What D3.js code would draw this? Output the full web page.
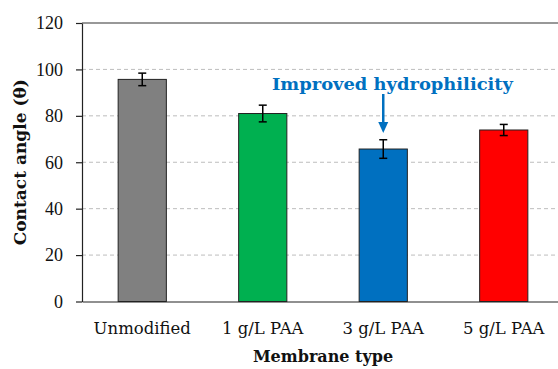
<!DOCTYPE html>
<html>
<head>
<meta charset="utf-8">
<script src="https://cdn.jsdelivr.net/npm/d3@7"></script>
<style>
  body { margin: 0; background: #fff; }
  svg { display: block; }
</style>
</head>
<body>
<div id="chart"></div>
<script>
// data
const categories = ['Unmodified', '1 g/L PAA', '3 g/L PAA', '5 g/L PAA'];
const angles = [95.7, 81.0, 65.7, 73.9];
const errors = [2.7, 3.6, 4.0, 2.4];
const barColors = ['#808080', '#00b050', '#0070c0', '#ff0000'];
const yTicks = [0, 20, 40, 60, 80, 100, 120];

const FONT = "'DejaVu Serif', 'Liberation Serif', serif";

const width = 558;
const height = 369;
const margin = { top: 23, right: -6, bottom: 67.5, left: 82 };

const svg = d3.select('#chart')
    .append('svg')
    .attr('width', width)
    .attr('height', height);

const x = d3.scaleBand()
    .domain(categories)
    .range([margin.left, width - margin.right])
    .paddingInner(0.6)
    .paddingOuter(0.3);

const y = d3.scaleLinear()
    .domain([0, 120])
    .range([height - margin.bottom, margin.top]);

// gridlines
svg.append('g')
    .selectAll('line')
    .data(yTicks.filter(d => d > 0 && d < 120))
    .enter()
    .append('line')
    .attr('x1', margin.left)
    .attr('x2', width)
    .attr('y1', d => y(d))
    .attr('y2', d => y(d))
    .attr('stroke', '#bdbdbd')
    .attr('stroke-width', 1)
    .attr('stroke-dasharray', '4,3');

// top line at 120
svg.append('line')
    .attr('x1', margin.left)
    .attr('x2', width)
    .attr('y1', y(120))
    .attr('y2', y(120))
    .attr('stroke', '#333')
    .attr('stroke-width', 1.2);

// bars
svg.selectAll('.bar')
    .data(categories)
    .enter()
    .append('rect')
    .attr('x', d => x(d))
    .attr('y', (d, i) => y(angles[i]))
    .attr('width', x.bandwidth())
    .attr('height', (d, i) => y(0) - y(angles[i]))
    .attr('fill', (d, i) => barColors[i])
    .attr('stroke', '#222')
    .attr('stroke-width', 1);

// error bars
const err = svg.append('g').attr('stroke', '#000').attr('stroke-width', 1.5);
categories.forEach((c, i) => {
    const cx = x(c) + x.bandwidth() / 2;
    const y1 = y(angles[i] + errors[i]);
    const y2 = y(angles[i] - errors[i]);
    err.append('line').attr('x1', cx).attr('x2', cx).attr('y1', y1).attr('y2', y2);
    err.append('line').attr('x1', cx - 4).attr('x2', cx + 4).attr('y1', y1).attr('y2', y1);
    err.append('line').attr('x1', cx - 4).attr('x2', cx + 4).attr('y1', y2).attr('y2', y2);
});

// y axis
const yAxis = svg.append('g')
    .attr('transform', `translate(${margin.left},0)`)
    .call(d3.axisLeft(y).tickValues(yTicks).tickSize(6).tickSizeOuter(0).tickPadding(13));
yAxis.attr('font-family', null);
yAxis.select('.domain').attr('stroke', '#222').attr('stroke-width', 1.2);
yAxis.selectAll('.tick line').attr('stroke', '#222').attr('stroke-width', 1.2);
yAxis.selectAll('text')
    .style('font-family', "'Liberation Serif', serif")
    .style('font-size', '18px')
    .attr('fill', '#111');

// x axis
const xAxis = svg.append('g')
    .attr('transform', `translate(0,${y(0)})`)
    .call(d3.axisBottom(x).tickSize(0).tickSizeOuter(0).tickPadding(21));
xAxis.attr('font-family', null);
xAxis.select('.domain').attr('stroke', '#222').attr('stroke-width', 1.2);
xAxis.selectAll('text')
    .style('font-family', FONT)
    .style('font-size', '16.5px')
    .attr('fill', '#111');

// axis titles
svg.append('text')
    .attr('transform', `translate(26,${(y(0) + y(120)) / 2}) rotate(-90)`)
    .attr('text-anchor', 'middle')
    .style('font-family', FONT)
    .style('font-size', '17px')
    .style('font-weight', 'bold')
    .attr('fill', '#111')
    .text('Contact angle (θ)');

svg.append('text')
    .attr('x', 323)
    .attr('y', 362)
    .attr('text-anchor', 'middle')
    .style('font-family', FONT)
    .style('font-size', '16px')
    .style('font-weight', 'bold')
    .attr('fill', '#111')
    .text('Membrane type');

// annotation
const blueX = x('3 g/L PAA') + x.bandwidth() / 2;
svg.append('text')
    .attr('x', 272)
    .attr('y', 90)
    .attr('textLength', 241)
    .attr('lengthAdjust', 'spacingAndGlyphs')
    .style('font-family', FONT)
    .style('font-size', '17px')
    .style('font-weight', 'bold')
    .attr('fill', '#0070c0')
    .text('Improved hydrophilicity');

svg.append('line')
    .attr('x1', blueX)
    .attr('x2', blueX)
    .attr('y1', 94)
    .attr('y2', 124)
    .attr('stroke', '#0070c0')
    .attr('stroke-width', 2.5);
svg.append('path')
    .attr('d', `M${blueX - 5},122 L${blueX + 5},122 L${blueX},133 Z`)
    .attr('fill', '#0070c0');
</script>
</body>
</html>
